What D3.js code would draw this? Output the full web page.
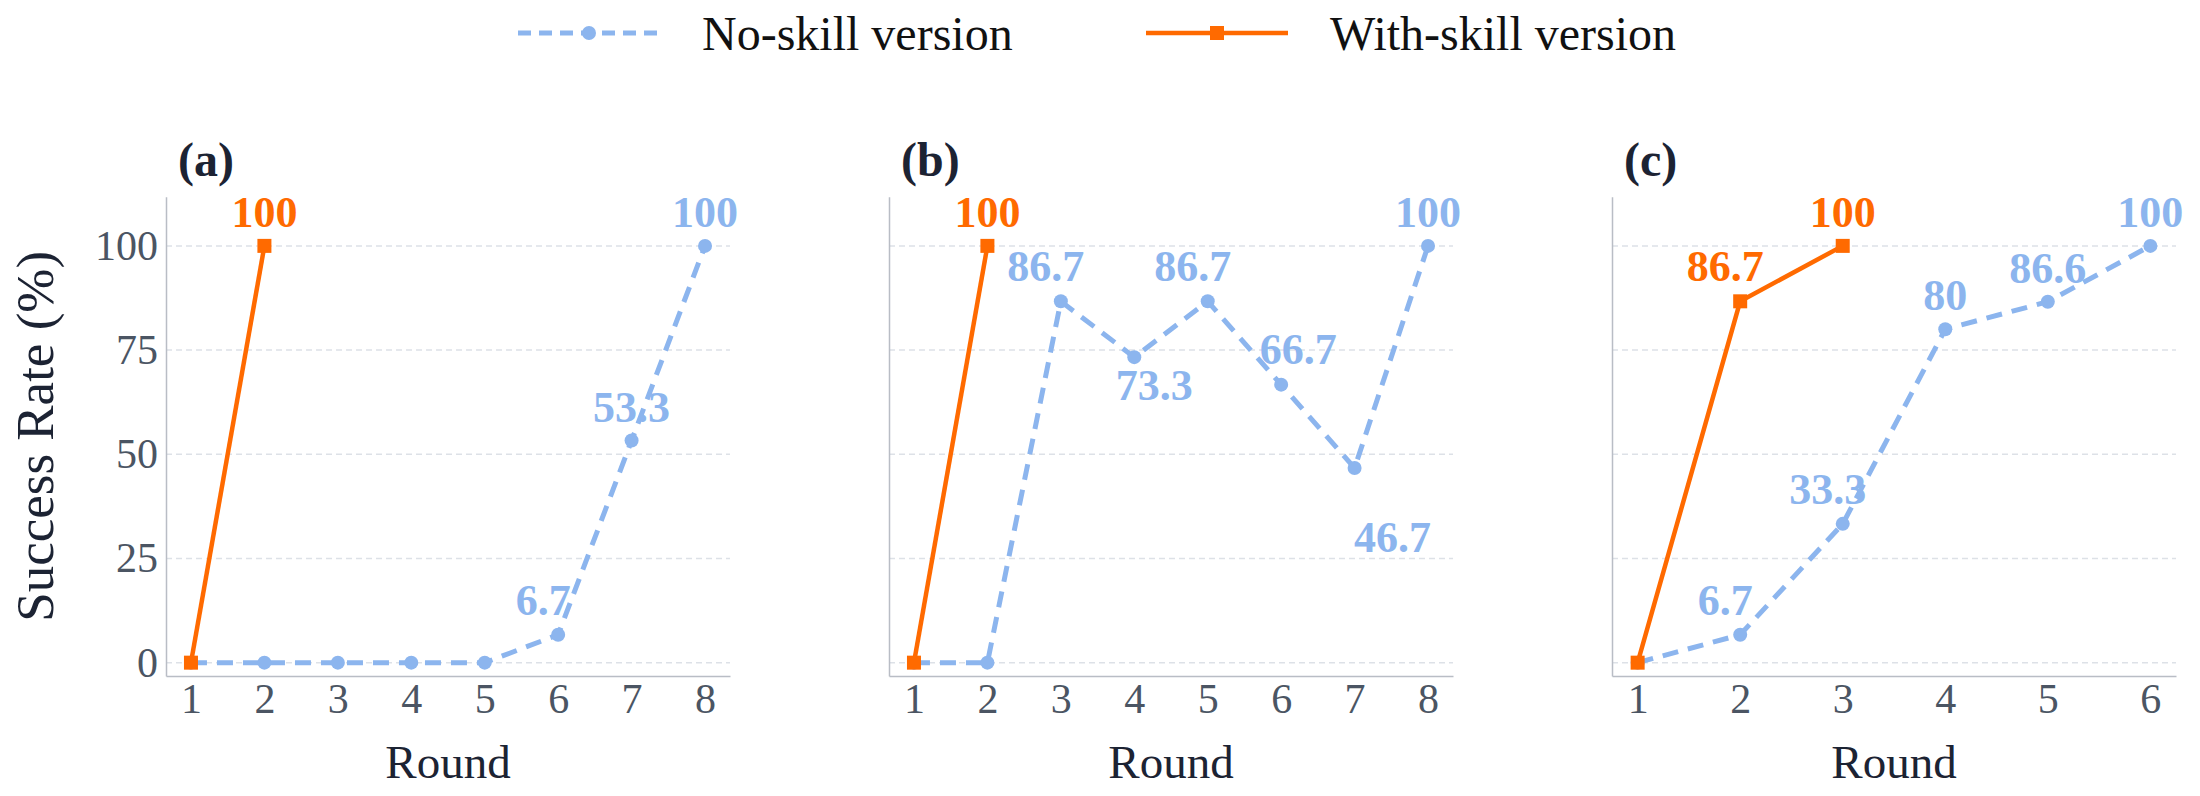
<!DOCTYPE html>
<html>
<head>
<meta charset="utf-8">
<script src="https://cdn.jsdelivr.net/npm/d3@7/dist/d3.min.js"></script>
<style>
  html, body { margin: 0; padding: 0; background: #fff; }
  svg { display: block; font-family: "Liberation Serif", "Times New Roman", Times, serif; }
</style>
</head>
<body>
<svg id="chart" width="2200" height="796"></svg>
<script>
// ── Data ──────────────────────────────────────────────
const roundsAB   = [1, 2, 3, 4, 5, 6, 7, 8];
const roundsC    = [1, 2, 3, 4, 5, 6];
const yTicks     = [0, 25, 50, 75, 100];

const noSkillA   = [0, 0, 0, 0, 0, 6.7, 53.3, 100];
const withSkillA = [0, 100];
const noSkillB   = [0, 0, 86.7, 73.3, 86.7, 66.7, 46.7, 100];
const withSkillB = [0, 100];
const noSkillC   = [0, 6.7, 33.3, 80, 86.6, 100];
const withSkillC = [0, 86.7, 100];

const panelNames  = ['(a)', '(b)', '(c)'];
const seriesNames = ['No-skill version', 'With-skill version'];

// label placement per point (null = no label)
const posNoA   = [null, null, null, null, null, 'topleft', 'top', 'top'];
const posWithA = [null, 'top'];
const posNoB   = [null, null, 'topleft', 'bottomright', 'topleft', 'topright', 'farbelow', 'top'];
const posWithB = [null, 'top'];
const posNoC   = [null, 'topleft', 'topleft', 'top', 'top', 'top'];
const posWithC = [null, 'topleft', 'top'];

// ── Style ─────────────────────────────────────────────
const BLUE   = '#8cb5ee';
const ORANGE = '#ff6a00';
const GRID   = '#dde1e7';
const AXIS   = '#b9bdc5';
const TICK   = '#4b5563';
const TITLE  = '#1c2333';
const FONT   = '"Liberation Serif", "Times New Roman", Times, serif';

const OFFSETS = {
  top:         [0, -19],
  topleft:     [-15, -20],
  topright:    [17, -21],
  bottomright: [20, 43],
  farbelow:    [38, 84]
};

const PW = 564, TOP = 196.7, BOTTOM = 676;
const panels = [
  { left: 166,  dom: [0.66, 8.34], rounds: roundsAB, no: noSkillA, wi: withSkillA, posNo: posNoA, posWi: posWithA },
  { left: 889,  dom: [0.66, 8.34], rounds: roundsAB, no: noSkillB, wi: withSkillB, posNo: posNoB, posWi: posWithB },
  { left: 1612, dom: [0.75, 6.25], rounds: roundsC,  no: noSkillC, wi: withSkillC, posNo: posNoC, posWi: posWithC }
];

const svg = d3.select('#chart');
const y = d3.scaleLinear().domain([-3.2, 111.8]).range([BOTTOM, TOP]);

panels.forEach((p, i) => {
  const x = d3.scaleLinear().domain(p.dom).range([p.left, p.left + PW]);
  const g = svg.append('g');

  // gridlines
  g.selectAll('.grid').data(yTicks).join('line')
    .attr('x1', p.left).attr('x2', p.left + PW)
    .attr('y1', d => y(d)).attr('y2', d => y(d))
    .attr('stroke', GRID).attr('stroke-width', 1.5)
    .attr('stroke-dasharray', '6,4');

  // axes
  const xa = g.append('g').attr('transform', `translate(0,${BOTTOM})`)
    .call(d3.axisBottom(x).tickValues(p.rounds).tickFormat(d3.format('d'))
      .tickSize(0).tickPadding(7).tickSizeOuter(0));
  xa.attr('font-family', FONT);
  xa.select('.domain').attr('stroke', AXIS).attr('stroke-width', 1.5);
  xa.selectAll('text').attr('fill', TICK).attr('font-size', 42);

  const ya = g.append('g').attr('transform', `translate(${p.left},0)`)
    .call(d3.axisLeft(y).tickValues(yTicks).tickSize(0).tickPadding(8).tickSizeOuter(0));
  ya.attr('font-family', FONT);
  ya.select('.domain').attr('stroke', AXIS).attr('stroke-width', 1.5);
  ya.selectAll('text').attr('fill', TICK).attr('font-size', 42)
    .style('display', i === 0 ? null : 'none');

  // panel title
  g.append('text').attr('x', p.left + 12).attr('y', 176)
    .attr('font-size', 48).attr('font-weight', 'bold').attr('fill', TITLE)
    .text(panelNames[i]);

  // x title
  g.append('text').attr('x', p.left + PW / 2).attr('y', 778)
    .attr('text-anchor', 'middle').attr('font-size', 47).attr('fill', TITLE)
    .text('Round');

  const line = d3.line().x((d, k) => x(p.rounds[k])).y(d => y(d));

  // no-skill series
  g.append('path').datum(p.no)
    .attr('d', line).attr('fill', 'none')
    .attr('stroke', BLUE).attr('stroke-width', 5)
    .attr('stroke-dasharray', '16,10');
  g.selectAll('.dotNo').data(p.no).join('circle')
    .attr('cx', (d, k) => x(p.rounds[k])).attr('cy', d => y(d))
    .attr('r', 7).attr('fill', BLUE);

  // with-skill series
  g.append('path').datum(p.wi)
    .attr('d', line).attr('fill', 'none')
    .attr('stroke', ORANGE).attr('stroke-width', 4.5);
  g.selectAll('.sqWi').data(p.wi).join('rect')
    .attr('x', (d, k) => x(p.rounds[k]) - 7).attr('y', d => y(d) - 7)
    .attr('width', 14).attr('height', 14).attr('fill', ORANGE);

  // data labels
  const addLabels = (vals, pos, color) => {
    vals.forEach((v, k) => {
      if (!pos[k]) return;
      const [dx, dy] = OFFSETS[pos[k]];
      g.append('text')
        .attr('x', x(p.rounds[k]) + dx).attr('y', y(v) + dy)
        .attr('text-anchor', 'middle').attr('font-size', 44)
        .attr('font-weight', 'bold').attr('fill', color)
        .text(String(v));
    });
  };
  addLabels(p.no, p.posNo, BLUE);
  addLabels(p.wi, p.posWi, ORANGE);
});

// y title
svg.append('text')
  .attr('transform', `translate(53,${(TOP + BOTTOM) / 2}) rotate(-90)`)
  .attr('text-anchor', 'middle').attr('font-size', 53).attr('fill', TITLE)
  .text('Success Rate (%)');

// ── Legend ────────────────────────────────────────────
const legend = svg.append('g');
const LY = 33;
legend.append('line').attr('x1', 518).attr('x2', 660).attr('y1', LY).attr('y2', LY)
  .attr('stroke', BLUE).attr('stroke-width', 5).attr('stroke-dasharray', '13,8');
legend.append('circle').attr('cx', 589).attr('cy', LY).attr('r', 7).attr('fill', BLUE);
legend.append('text').attr('x', 702).attr('y', 50).attr('font-size', 48).attr('fill', '#111')
  .text(seriesNames[0]);
legend.append('line').attr('x1', 1146).attr('x2', 1288).attr('y1', LY).attr('y2', LY)
  .attr('stroke', ORANGE).attr('stroke-width', 4.5);
legend.append('rect').attr('x', 1217 - 7).attr('y', LY - 7).attr('width', 14).attr('height', 14)
  .attr('fill', ORANGE);
legend.append('text').attr('x', 1330).attr('y', 50).attr('font-size', 48).attr('fill', '#111')
  .text(seriesNames[1]);
</script>
</body>
</html>
